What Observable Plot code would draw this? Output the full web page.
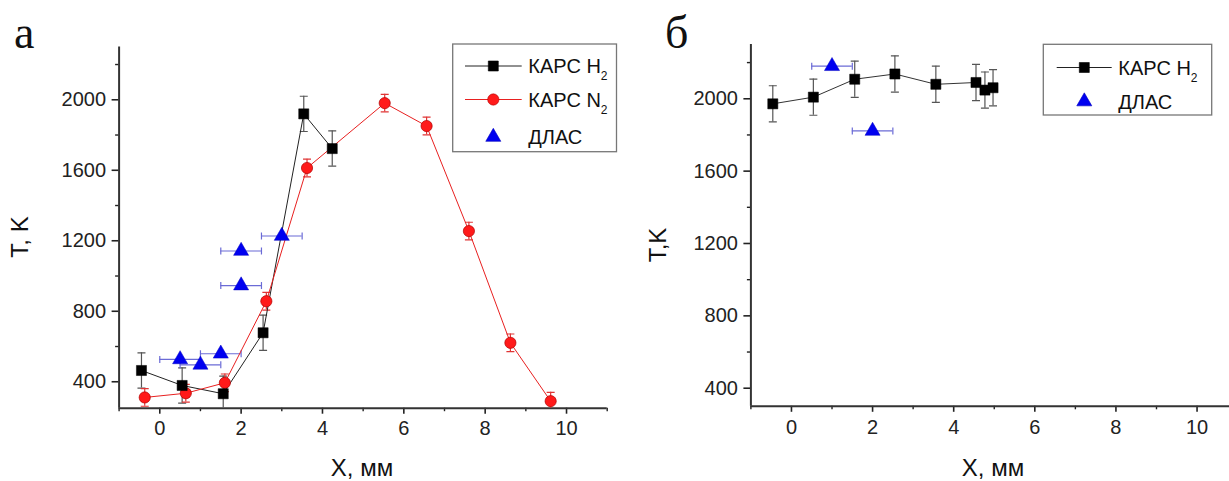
<!DOCTYPE html>
<html><head><meta charset="utf-8">
<script src="https://cdn.jsdelivr.net/npm/d3@7"></script>
<script src="https://cdn.jsdelivr.net/npm/@observablehq/plot@0.6"></script>
<style>
body{margin:0;background:#fff;}
#wrap{position:relative;width:1229px;height:481px;overflow:hidden;background:#fff;}
#wrap svg{position:absolute;top:0;overflow:visible;}
</style></head><body><div id="wrap"></div>
<script>
// ---------- Panel а ----------
const xH2a = [-0.45, 0.55, 1.56, 2.54, 3.54, 4.24];
const tH2a = [464, 379, 332, 678, 1920, 1723];
const eH2a = [100, 100, 100, 100, 100, 100];

const xN2a = [-0.37, 0.64, 1.60, 2.62, 3.62, 5.53, 6.56, 7.60, 8.62, 9.61];
const tN2a = [311, 335, 394, 857, 1613, 1981, 1851, 1255, 621, 290];
const eN2a = [50, 50, 50, 50, 50, 50, 50, 50, 50, 50];

const xDlasA = [0.5, 1.0, 1.5, 2.0, 2.0, 3.0];
const tDlasA = [527, 496, 559, 1142, 946, 1227];
const exDlasA = [0.5, 0.5, 0.5, 0.5, 0.5, 0.5];

// ---------- Panel б ----------
const xH2b = [-0.46, 0.54, 1.56, 2.55, 3.56, 4.55, 4.77, 4.97];
const tH2b = [1972, 2009, 2108, 2137, 2080, 2090, 2048, 2061];
const eH2b = [100, 100, 100, 100, 100, 100, 100, 100];

const xDlasB = [1.0, 2.0];
const tDlasB = [2180, 1822];
const exDlasB = [0.5, 0.5];

// tick labels
const xMajor = [0, 2, 4, 6, 8, 10];
const xMinor = [-1, 1, 3, 5, 7, 9, 11];
const yMajor = [400, 800, 1200, 1600, 2000];
const yMinor = [600, 1000, 1400, 1800, 2200];

const labelsH2 = "КАРС H";
const labelN2 = "КАРС N";
const labelDlas = "ДЛАС";

const rows = (xs, ts, es) => xs.map((x, i) => ({x, t: ts[i], e: es[i]}));

const hCap = {draw(ctx, size){ const r = Math.sqrt(size / Math.PI); ctx.moveTo(-r, 0); ctx.lineTo(r, 0); }};
const vCap = {draw(ctx, size){ const r = Math.sqrt(size / Math.PI); ctx.moveTo(0, -r); ctx.lineTo(0, r); }};

const FONT = "'Liberation Sans', Arial, sans-serif";
const AX = "#333";

function axes(xdom, ydom) {
  return [
    Plot.axisX({ticks: xMajor, tickSize: 6, tickPadding: 7, tickFormat: d => String(d), strokeWidth: 1.6, label: null}),
    Plot.axisX({ticks: xMinor.filter(v => v >= xdom[0] && v <= xdom[1]), tickSize: 3.5, tickFormat: () => "", strokeWidth: 1.4, label: null}),
    Plot.axisY({ticks: yMajor, tickSize: 7, tickPadding: 6, tickFormat: d => String(d), strokeWidth: 1.6, label: null}),
    Plot.axisY({ticks: yMinor, tickSize: 3.5, tickFormat: () => "", strokeWidth: 1.4, label: null}),
    Plot.ruleY([ydom[0]], {stroke: AX, strokeWidth: 2}),
    Plot.ruleX([xdom[0]], {stroke: AX, strokeWidth: 2})
  ];
}

function vErr(data, color) {
  return [
    Plot.ruleX(data, {x: "x", y1: d => d.t - d.e, y2: d => d.t + d.e, stroke: color, strokeWidth: 1.2, clip: true}),
    Plot.dot(data, {x: "x", y: d => d.t + d.e, symbol: hCap, r: 4, stroke: color, strokeWidth: 1.2, fill: "none", clip: true}),
    Plot.dot(data, {x: "x", y: d => d.t - d.e, symbol: hCap, r: 4, stroke: color, strokeWidth: 1.2, fill: "none", clip: true})
  ];
}
function hErr(data, color) {
  return [
    Plot.ruleY(data, {y: "t", x1: d => d.x - d.e, x2: d => d.x + d.e, stroke: color, strokeWidth: 1.2}),
    Plot.dot(data, {y: "t", x: d => d.x - d.e, symbol: vCap, r: 3.5, stroke: color, strokeWidth: 1.2, fill: "none"}),
    Plot.dot(data, {y: "t", x: d => d.x + d.e, symbol: vCap, r: 3.5, stroke: color, strokeWidth: 1.2, fill: "none"})
  ];
}

const H2_ERR = "#555", N2_ERR = "#e03535", DL_ERR = "#6b6bd6";
const SQ = {symbol: "square", r: 5.7, fill: "#000", stroke: "#000", strokeWidth: 0.5};
const CI = {symbol: "circle", r: 5.6, fill: "#ff1a1a", stroke: "#b00000", strokeWidth: 0.7};
const TR = {symbol: "triangle", r: 5.6, fill: "#0000f0", stroke: "#0000c0", strokeWidth: 0.5};

// ---------- build panel а ----------
const h2a = rows(xH2a, tH2a, eH2a);
const n2a = rows(xN2a, tN2a, eN2a);
const dla = rows(xDlasA, tDlasA, exDlasA);
const xdA = [-1, 11], ydA = [250, 2300];

const plotA = Plot.plot({
  width: 620, height: 481,
  marginLeft: 118.6, marginRight: 13.3, marginTop: 46.4, marginBottom: 73.3,
  x: {domain: xdA, label: null}, y: {domain: ydA, label: null},
  style: {fontSize: "20px", fontFamily: FONT, color: "#222", background: "transparent"},
  marks: [
    ...axes(xdA, ydA),
    ...vErr(h2a, H2_ERR),
    ...vErr(n2a, N2_ERR),
    ...hErr(dla, DL_ERR),
    Plot.line(h2a, {x: "x", y: "t", stroke: "#222", strokeWidth: 1}),
    Plot.line(n2a, {x: "x", y: "t", stroke: "#e82020", strokeWidth: 1}),
    Plot.dot(n2a, {x: "x", y: "t", ...CI}),
    Plot.dot(h2a, {x: "x", y: "t", ...SQ}),
    Plot.dot(dla, {x: "x", y: "t", ...TR})
  ]
});

// ---------- build panel б ----------
const h2b = rows(xH2b, tH2b, eH2b);
const dlb = rows(xDlasB, tDlasB, exDlasB);
const xdB = [-1, 10.8], ydB = [300, 2300];

const plotB = Plot.plot({
  width: 609, height: 481,
  marginLeft: 130.4, marginRight: 0, marginTop: 44, marginBottom: 75.2,
  x: {domain: xdB, label: null}, y: {domain: ydB, label: null},
  style: {fontSize: "20px", fontFamily: FONT, color: "#222", background: "transparent"},
  marks: [
    ...axes(xdB, ydB),
    ...vErr(h2b, H2_ERR),
    ...hErr(dlb, DL_ERR),
    Plot.line(h2b, {x: "x", y: "t", stroke: "#333", strokeWidth: 1}),
    Plot.dot(h2b, {x: "x", y: "t", ...SQ}),
    Plot.dot(dlb, {x: "x", y: "t", ...TR})
  ]
});

const wrap = document.getElementById("wrap");
plotA.style.left = "0px";
plotB.style.left = "620px";
wrap.appendChild(plotA);
wrap.appendChild(plotB);

// ---------- annotations (labels, legends) ----------
function decorate(svg, o) {
  const s = d3.select(svg);
  s.append("text").attr("x", o.letterX).attr("y", 48).attr("text-anchor", "start")
    .attr("font-family", "'Liberation Serif', 'Times New Roman', serif").attr("font-size", 46)
    .attr("fill", "#111").text(o.letter);
  s.append("text").attr("transform", `translate(${o.yTitleX},${o.yTitleY}) rotate(-90)`)
    .attr("text-anchor", "middle").attr("dominant-baseline", "central")
    .attr("font-family", FONT).attr("font-size", 24).attr("fill", "#111").text(o.yTitle);
  s.append("text").attr("x", o.xTitleX).attr("y", 476).attr("text-anchor", "middle")
    .attr("font-family", FONT).attr("font-size", 24).attr("fill", "#111").text("X, мм");
  // legend
  const L = o.legend;
  s.append("rect").attr("x", L.x0).attr("y", L.y0).attr("width", L.x1 - L.x0).attr("height", L.y1 - L.y0)
    .attr("fill", "#fff").attr("stroke", "#777").attr("stroke-width", 1.3);
  L.items.forEach(it => {
    if (it.line) s.append("line").attr("x1", L.lx0).attr("x2", L.lx1).attr("y1", it.y).attr("y2", it.y)
      .attr("stroke", it.line).attr("stroke-width", 1);
    const sym = d3.symbol().type(it.sym).size(it.size)();
    s.append("path").attr("d", sym).attr("transform", `translate(${L.mx},${it.y})`)
      .attr("fill", it.fill).attr("stroke", it.stroke).attr("stroke-width", 0.6);
    const t = s.append("text").attr("x", L.tx).attr("y", it.y).attr("dy", "0.36em").attr("text-anchor", "start")
      .attr("font-family", FONT).attr("font-size", 20).attr("fill", "#111");
    t.append("tspan").text(it.label);
    if (it.sub) t.append("tspan").attr("font-size", 12).attr("dy", 7).text(it.sub);
  });
}

const itH2 = {label: labelsH2, sub: "2", sym: d3.symbolSquare, size: 100, fill: "#000", stroke: "#000", line: "#222"};
const itN2 = {label: labelN2, sub: "2", sym: d3.symbolCircle, size: 100, fill: "#ff1a1a", stroke: "#b00000", line: "#e82020"};
const itDl = {label: labelDlas, sub: null, sym: d3.symbolTriangle, size: 98, fill: "#0000f0", stroke: "#0000c0", line: null};

decorate(plotA, {
  letter: "а", letterX: 14, yTitle: "T, K", yTitleX: 19, yTitleY: 237, xTitleX: 362,
  legend: {x0: 452.7, y0: 44, x1: 616.5, y1: 151.7, lx0: 465, lx1: 521.7, mx: 493.3, tx: 528.3,
    items: [{...itH2, y: 66}, {...itN2, y: 99.5}, {...itDl, y: 137}]}
});
decorate(plotB, {
  letter: "б", letterX: 45, yTitle: "T,K", yTitleX: 37, yTitleY: 245, xTitleX: 373,
  legend: {x0: 423.3, y0: 44.3, x1: 591.7, y1: 115, lx0: 436.7, lx1: 491.7, mx: 464.3, tx: 498.3,
    items: [{...itH2, y: 67.5}, {...itDl, y: 101.5}]}
});
</script></body></html>
